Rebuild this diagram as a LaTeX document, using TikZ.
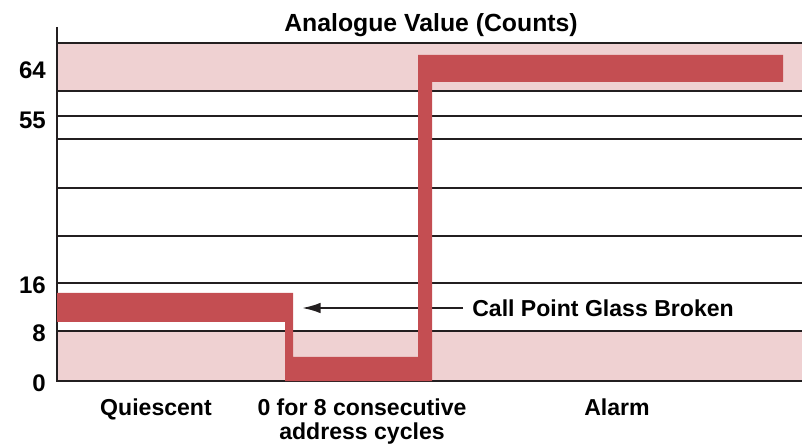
\documentclass[tikz,border=0pt]{standalone}
\usepackage{fontspec}
\setmainfont{Liberation Sans}
\usetikzlibrary{arrows.meta,positioning}
\definecolor{trace}{HTML}{C44E52}
\definecolor{band}{HTML}{EFD1D2}
\definecolor{gridline}{HTML}{231F20}

\begin{document}
\begin{tikzpicture}[x=0.75pt,y=-0.75pt,every node/.style={font=\bfseries\fontsize{17.3}{17.5}\selectfont,text depth=0,inner sep=0}]
    \useasboundingbox (0,0) rectangle (802,448);
    \fill[band] (57,43) rectangle (802,91); % alarm band
    \fill[band] (57,331) rectangle (802,381); % low band
    \foreach \y in {43,91,116,139,188,236,283,331,381} {
        \draw[gridline,line width=1.5pt] (57,\y) -- (802,\y); % count lines
    }
    \draw[gridline,line width=1.5pt] (57,27) -- (57,382); % axis
    \foreach \y/\v in {70/64,120/55,285/16,333/8,383/0} {
        \node[anchor=east,font=\bfseries\fontsize{18}{20}\selectfont] (tick\v) at (46,\y) {\v};
    }
    \node[font=\bfseries\fontsize{18.6}{20}\selectfont] (title) at (431,23) {Analogue Value (Counts)};
    \node[anchor=west] (glass) at (472,308) {Call Point Glass Broken};
    \coordinate (brk) at (302,308);
    \draw[gridline,line width=1.6pt,-{Latex[length=14pt,width=8pt]},shorten <=6.75pt] (glass.west) -- (brk); % pointer
    \fill[trace] (57,293) -| (293,357) -| (418,55) -| (783,82) -| (432,381) -| (285,322) -- (57,322) -- cycle; % analogue value
    \node[anchor=north] (quiet) at (156,399) {Quiescent};
    \node[anchor=north,align=center] (zero) at (362,399) {0 for 8 consecutive\\address cycles};
    \node[anchor=north] (alarm) at (617,399) {Alarm};
\end{tikzpicture}
\end{document}
